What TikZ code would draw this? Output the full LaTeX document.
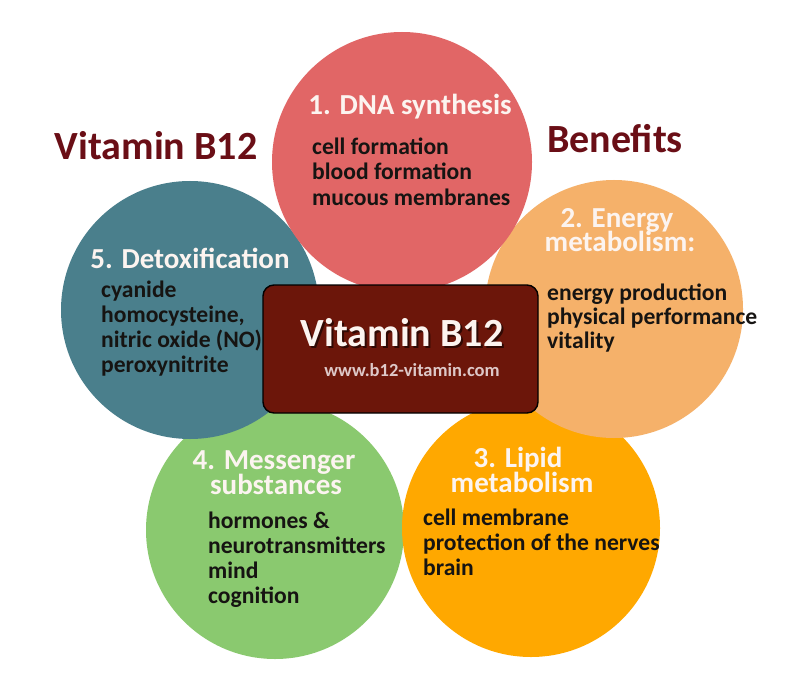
\documentclass[tikz,border=0pt]{standalone}
\usepackage{fontspec}
\setmainfont{Carlito}
\definecolor{cred}{RGB}{225,102,102}
\definecolor{cteal}{RGB}{74,127,140}
\definecolor{clight}{RGB}{245,177,106}
\definecolor{cgreen}{RGB}{138,201,111}
\definecolor{corange}{RGB}{255,168,0}
\definecolor{cbox}{RGB}{108,22,10}
\definecolor{ctitle}{RGB}{106,14,22}
\definecolor{cwhite}{RGB}{252,244,240}
\definecolor{cbody}{RGB}{22,20,18}
\definecolor{curl}{RGB}{222,200,200}
\begin{document}
\begin{tikzpicture}[x=1pt,y=-1pt,
  bubble/.style={circle,inner sep=0pt,minimum size=#1},
  bubble/.default=258pt,
  head/.style={inner sep=0pt,anchor=base,text=cwhite,font=\bfseries\fontsize{29}{29}\selectfont},
  body/.style={inner sep=0pt,anchor=base west,text=cbody,font=\bfseries\fontsize{23.6}{25}\selectfont},
  bigtitle/.style={inner sep=0pt,anchor=base,text=ctitle,font=\bfseries\fontsize{40}{40}\selectfont}]
\useasboundingbox[fill=white] (0,0) rectangle (800,687);
% circles
\node[bubble,fill=cgreen] (green) at (275,530) {};
\node[bubble,fill=corange] (lipid) at (531,528) {};
\node[bubble,fill=cteal] (teal) at (190,310) {};
\node[bubble,fill=clight] (energy) at (614,309) {};
\node[bubble=260pt,fill=cred] (dna) at (402,162) {};
% side titles
\node[bigtitle] (ttl) at (156,160) {Vitamin B12};
\node[bigtitle] (ben) at (615,153) {Benefits};
% DNA
\node[head] (h1) at (410,115) {1. DNA synthesis};
\foreach \t [count=\i] in {cell formation, blood formation, mucous membranes}
  \node[body] (b1\i) at (312,130+25*\i) {\t};
% Energy
\node[head] (h2a) at (617,227) {2. Energy};
\node[head] (h2b) at (620,251) {metabolism:};
\foreach \t [count=\i] in {energy production, physical performance, vitality}
  \node[body] (b2\i) at (547,276+24*\i) {\t};
% Lipid
\node[head] (h3a) at (518,467) {3. Lipid};
\node[head] (h3b) at (522,492) {metabolism};
\foreach \t [count=\i] in {cell membrane, protection of the nerves, brain}
  \node[body] (b3\i) at (423,500+25*\i) {\t};
% Messenger
\node[head] (h4a) at (274,469) {4. Messenger};
\node[head] (h4b) at (276,494) {substances};
\foreach \t [count=\i] in {hormones \&, neurotransmitters, mind, cognition}
  \node[body] (b4\i) at (208,503+25*\i) {\t};
% Detox
\node[head] (h5) at (190,268) {5. Detoxification};
\foreach \t [count=\i] in {cyanide, {homocysteine,}, nitric oxide (NO), peroxynitrite}
  \node[body] (b5\i) at (101,272+25*\i) {\t};
% centre box
\node[draw=black,line width=1.4pt,rounded corners=11pt,fill=cbox,minimum width=275pt,minimum height=128pt,inner sep=0pt] (box) at (400.5,349) {};
\node[inner sep=0pt,anchor=base,text=black,opacity=0.55,font=\bfseries\fontsize{40}{40}\selectfont] (boxshadow) at (404,348.5) {Vitamin B12};
\node[inner sep=0pt,anchor=base,text=cwhite,font=\bfseries\fontsize{40}{40}\selectfont] (boxtitle) at (402,346) {Vitamin B12};
\node[inner sep=0pt,anchor=base,text=curl,font=\bfseries\fontsize{18.5}{18.5}\selectfont] (url) at (412,376) {www.b12-vitamin.com};
\end{tikzpicture}
\end{document}
